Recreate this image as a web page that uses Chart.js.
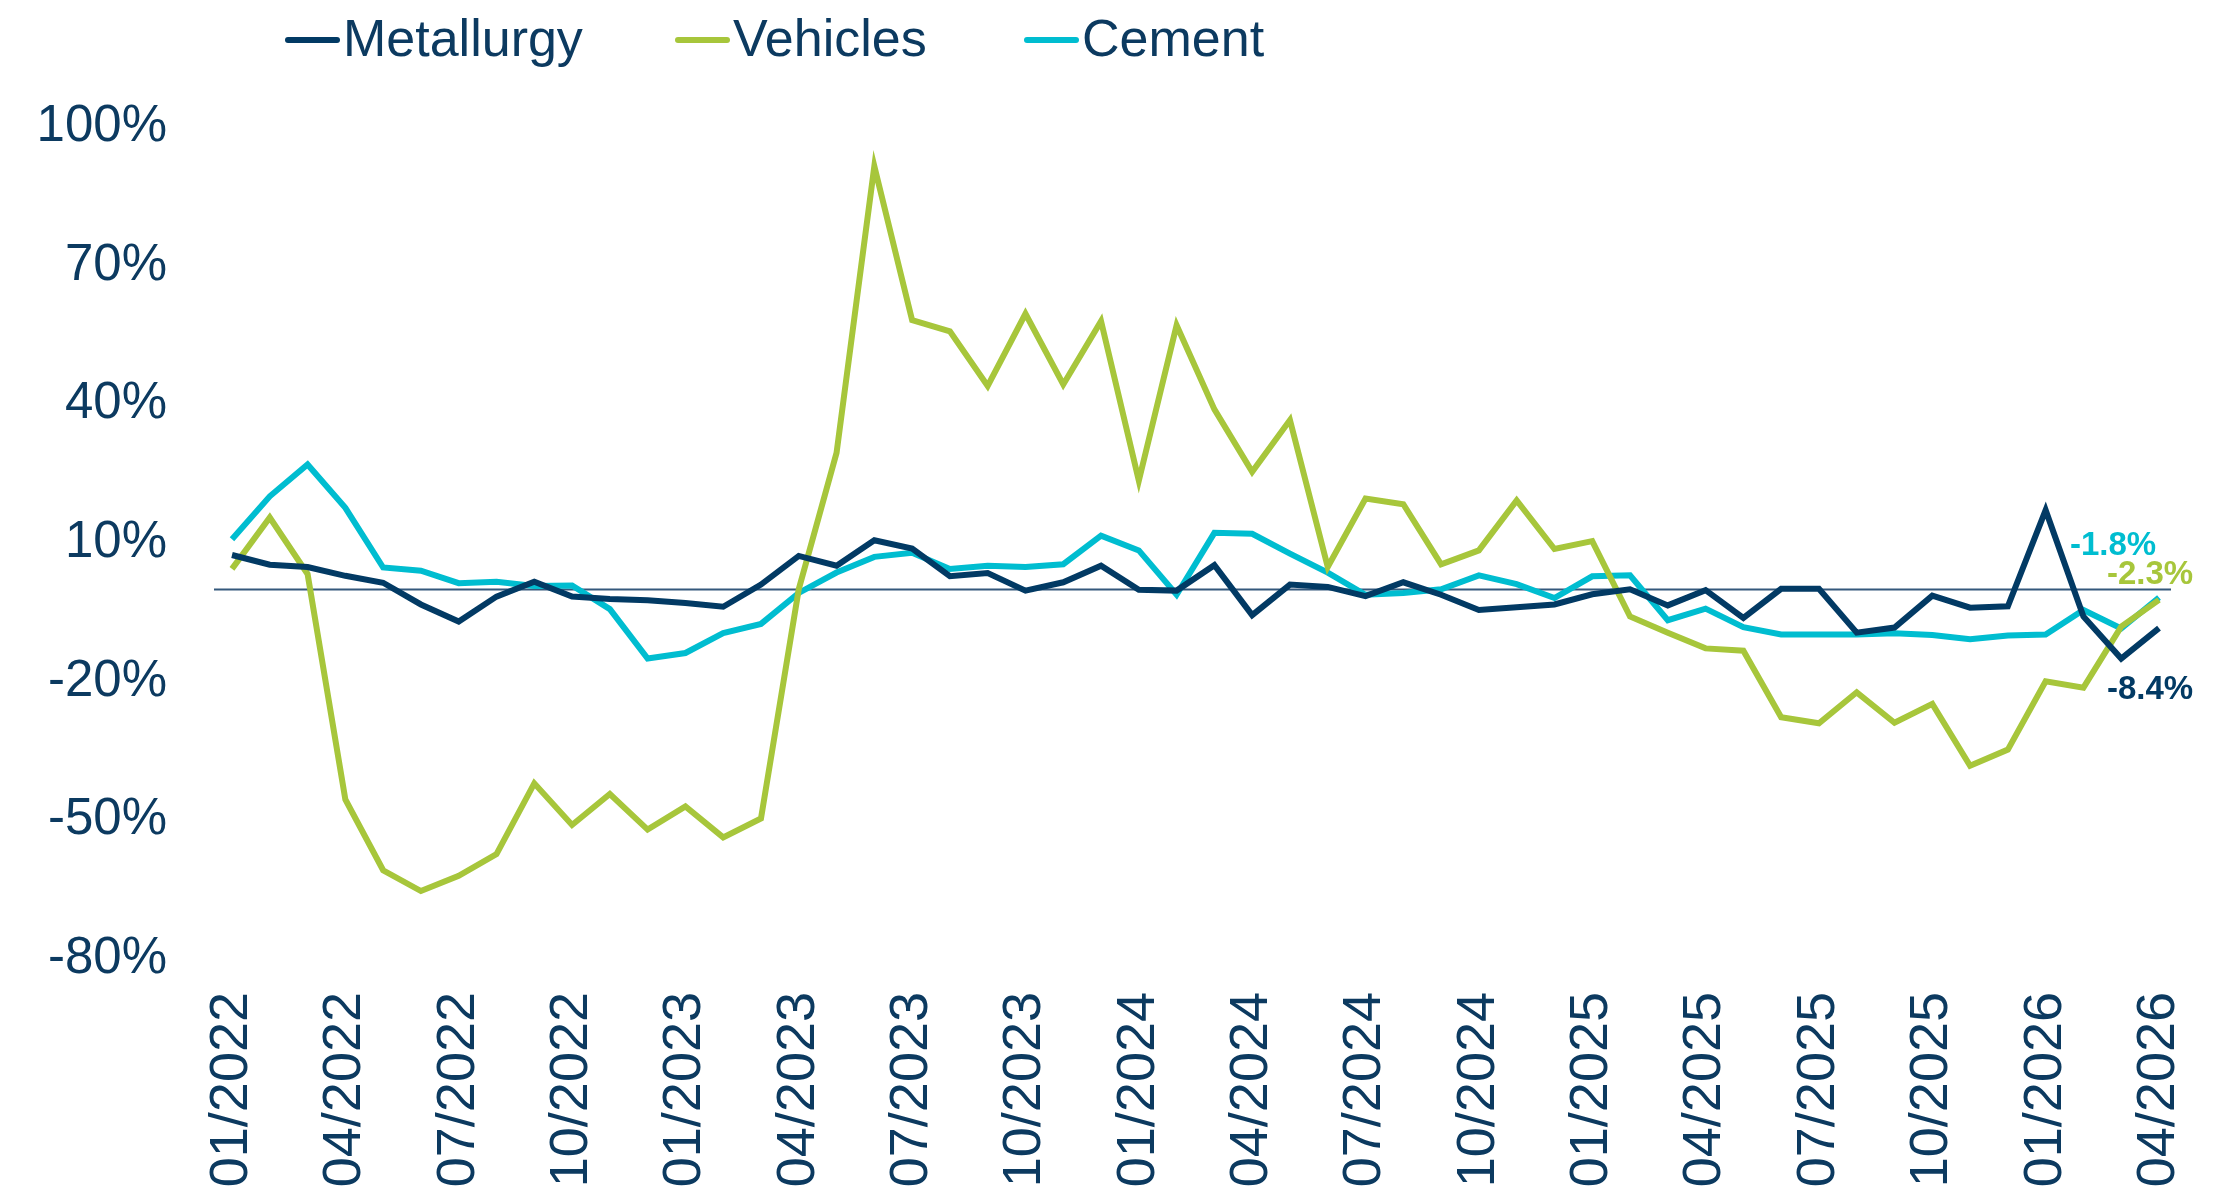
<!DOCTYPE html>
<html>
<head>
<meta charset="utf-8">
<script src="https://cdn.jsdelivr.net/npm/chart.js@4.4.1/dist/chart.umd.min.js"></script>
<style>
  html, body { margin: 0; padding: 0; background: #ffffff; }
  canvas { display: block; }
</style>
</head>
<body>
<canvas id="chart" width="2237" height="1186"></canvas>
<script>
// Monthly periods, 01/2022 .. 04/2026
const months = [
  '01/2022','02/2022','03/2022','04/2022','05/2022','06/2022','07/2022','08/2022','09/2022','10/2022','11/2022','12/2022',
  '01/2023','02/2023','03/2023','04/2023','05/2023','06/2023','07/2023','08/2023','09/2023','10/2023','11/2023','12/2023',
  '01/2024','02/2024','03/2024','04/2024','05/2024','06/2024','07/2024','08/2024','09/2024','10/2024','11/2024','12/2024',
  '01/2025','02/2025','03/2025','04/2025','05/2025','06/2025','07/2025','08/2025','09/2025','10/2025','11/2025','12/2025',
  '01/2026','02/2026','03/2026','04/2026'
];

// Year-on-year change, %
const metallurgy = [
  7.4, 5.3, 4.8, 2.9, 1.4, -3.3, -7.0, -1.6, 1.6, -1.6, -2.1, -2.4,
  -3.0, -3.8, 1.0, 7.2, 5.1, 10.6, 8.8, 2.8, 3.5, -0.3, 1.5, 5.1,
  -0.1, -0.3, 5.2, -5.6, 1.0, 0.5, -1.5, 1.5, -1.2, -4.5, -3.9, -3.3,
  -1.1, 0.0, -3.5, -0.2, -6.2, 0.1, 0.1, -9.4, -8.3, -1.4,
  -4.0, -3.7, 17.1, -5.9, -15.0, -8.4
];

const vehicles = [
  4.4, 15.5, 3.3, -45.5, -60.8, -65.3, -62.0, -57.3, -42.0, -51.0, -44.3, -52.0,
  -47.0, -53.7, -49.6, 0.0, 29.5, 91.5, 58.2, 55.8, 44.0, 59.6, 44.3, 58.0,
  23.5, 57.1, 38.9, 25.4, 36.6, 4.8, 19.6, 18.4, 5.4, 8.4, 19.2, 8.7,
  10.4, -5.9, -9.4, -12.8, -13.3, -27.7, -29.0, -22.3, -28.9, -24.8,
  -38.2, -34.7, -19.9, -21.3, -8.1, -2.3
];

const cement = [
  10.8, 20.1, 27.0, 17.6, 4.7, 4.0, 1.3, 1.6, 0.7, 0.8, -4.3, -15.0,
  -13.8, -9.5, -7.5, -0.8, 3.6, 7.0, 7.9, 4.4, 5.1, 4.8, 5.4, 11.6,
  8.4, -1.2, 12.2, 12.0, 7.7, 3.6, -1.2, -0.8, 0.0, 3.0, 1.1, -1.9,
  2.8, 3.0, -6.7, -4.2, -8.2, -9.8, -9.8, -9.8, -9.5, -9.9,
  -10.8, -10.0, -9.8, -4.5, -8.5, -1.8
];

const seriesNames = ['Metallurgy', 'Vehicles', 'Cement'];
const seriesColors = ['#023a64', '#a7c63b', '#00bdd0'];
const yTicks = [-80, -50, -20, 10, 40, 70, 100];

const TEXT = '#0c3a60';
const FONT = "'Liberation Sans', Arial, Helvetica, sans-serif";

// Horizontal reference line at 0 %
const zeroLine = {
  id: 'zeroLine',
  beforeDatasetsDraw(chart) {
    const { ctx, chartArea, scales } = chart;
    const y = Math.round(scales.y.getPixelForValue(0)) + 0.5;
    ctx.save();
    ctx.strokeStyle = '#34587c';
    ctx.lineWidth = 2;
    ctx.beginPath();
    ctx.moveTo(chartArea.left - 18, y);
    ctx.lineTo(chartArea.right + 12, y);
    ctx.stroke();
    ctx.restore();
  }
};

// Legend: short line swatch followed by the series name
const lineLegend = {
  id: 'lineLegend',
  afterDraw(chart) {
    const { ctx } = chart;
    const starts = [285, 675, 1024];
    const y = 40;
    ctx.save();
    ctx.font = `52px ${FONT}`;
    ctx.textBaseline = 'middle';
    ctx.textAlign = 'left';
    chart.data.datasets.forEach((ds, i) => {
      const x = starts[i];
      ctx.strokeStyle = ds.borderColor;
      ctx.lineWidth = 6;
      ctx.lineCap = 'round';
      ctx.beginPath();
      ctx.moveTo(x + 3, y);
      ctx.lineTo(x + 52, y);
      ctx.stroke();
      ctx.fillStyle = TEXT;
      ctx.fillText(ds.label, x + 58, y + 2);
    });
    ctx.restore();
  }
};

// Value of the latest month written next to each line's end
const endLabels = {
  id: 'endLabels',
  afterDatasetsDraw(chart) {
    const { ctx } = chart;
    const offsets = [
      { dx: -9, dy: 62 },   // Metallurgy
      { dx: -9, dy: -25 },  // Vehicles
      { dx: -46, dy: -52 }  // Cement
    ];
    ctx.save();
    ctx.font = `bold 33px ${FONT}`;
    ctx.textAlign = 'center';
    ctx.textBaseline = 'middle';
    chart.data.datasets.forEach((ds, i) => {
      const meta = chart.getDatasetMeta(i);
      const last = ds.data.length - 1;
      const pt = meta.data[last];
      const v = ds.data[last];
      ctx.fillStyle = ds.borderColor;
      ctx.fillText(v.toFixed(1) + '%', pt.x + offsets[i].dx, pt.y + offsets[i].dy);
    });
    ctx.restore();
  }
};

const seriesData = [metallurgy, vehicles, cement];

new Chart(document.getElementById('chart'), {
  type: 'line',
  data: {
    labels: months,
    datasets: seriesNames.map((name, i) => ({
      label: name,
      data: seriesData[i],
      borderColor: seriesColors[i],
      backgroundColor: seriesColors[i],
      borderWidth: 6,
      pointRadius: 0,
      tension: 0,
      fill: false,
      borderJoinStyle: 'miter'
    }))
  },
  options: {
    responsive: false,
    animation: false,
    devicePixelRatio: 1,
    layout: { padding: { top: 127, right: 78, bottom: 0, left: 0 } },
    plugins: {
      legend: { display: false },
      tooltip: { enabled: false }
    },
    scales: {
      x: {
        type: 'category',
        offset: false,
        grid: { display: false, drawTicks: false },
        border: { display: false },
        ticks: {
          autoSkip: false,
          maxRotation: 90,
          minRotation: 90,
          padding: 33,
          color: TEXT,
          font: { family: FONT, size: 54 },
          callback: function (val, idx) {
            return idx % 3 === 0 ? this.getLabelForValue(val) : '';
          }
        },
        afterFit(scale) {
          scale.height = 227;
          scale.paddingLeft = 0;
          scale.paddingRight = 0;
        }
      },
      y: {
        min: -80,
        max: 100,
        afterBuildTicks(scale) { scale.ticks = yTicks.map(v => ({ value: v })); },
        grid: { display: false, drawTicks: false },
        border: { display: false },
        ticks: {
          padding: 65,
          color: TEXT,
          font: { family: FONT, size: 51 },
          callback: v => v + '%'
        },
        afterFit(scale) {
          scale.width = 232;
          scale.paddingTop = 0;
          scale.paddingBottom = 0;
        }
      }
    }
  },
  plugins: [zeroLine, endLabels, lineLegend]
});
</script>
</body>
</html>
